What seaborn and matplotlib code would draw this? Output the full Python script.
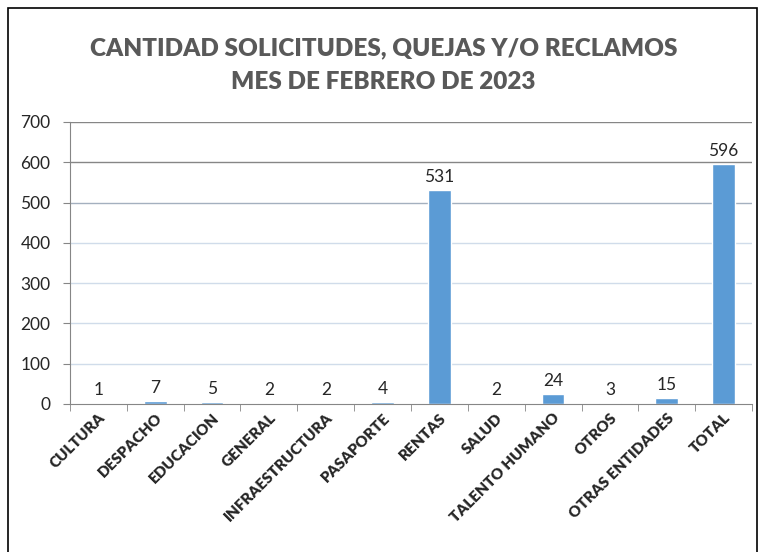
import numpy as np
import matplotlib
matplotlib.use("Agg")
import matplotlib.pyplot as plt
import seaborn as sns
import pandas as pd
from matplotlib.patches import Rectangle

categorias = ["CULTURA", "DESPACHO", "EDUCACION", "GENERAL", "INFRAESTRUCTURA",
              "PASAPORTE", "RENTAS", "SALUD", "TALENTO HUMANO", "OTROS",
              "OTRAS ENTIDADES", "TOTAL"]
cantidades = [1, 7, 5, 2, 2, 4, 531, 2, 24, 3, 15, 596]
y_ticks = [0, 100, 200, 300, 400, 500, 600, 700]
titulo = "CANTIDAD SOLICITUDES, QUEJAS Y/O RECLAMOS\nMES DE FEBRERO DE 2023"

df = pd.DataFrame({"area": categorias, "cantidad": cantidades})

sns.set_style("white")
plt.rcParams["font.family"] = ["Lato", "DejaVu Sans"]

fig = plt.figure(figsize=(7.67, 5.52), dpi=100)
ax = fig.add_axes([70 / 767, 1 - 404 / 552, 682 / 767, 282 / 552])

sns.barplot(data=df, x="area", y="cantidad", color="#5B9BD5", width=0.4,
            saturation=1, ax=ax)

ax.set_ylim(0, 700)
ax.set_xlim(-0.5, len(categorias) - 0.5)
ax.set_yticks(y_ticks)
ax.set_xlabel("")
ax.set_ylabel("")

# lineas de cuadricula
grid_colors = ["#d0dcea"] * 5 + ["#a4b0bf", "#868686", "#868686"]
for yv, c in zip(y_ticks[1:], grid_colors[1:]):
    ax.axhline(yv, color=c, lw=1, zorder=0)

for s in ["top", "right"]:
    ax.spines[s].set_visible(False)
ax.spines["left"].set_color("#868686")
ax.spines["bottom"].set_color("#868686")

ax.tick_params(axis="y", direction="out", length=5, color="#868686",
               labelsize=12.5, pad=9, left=True)
ax.set_xticks(np.arange(-0.5, len(categorias), 1), minor=True)
ax.tick_params(axis="x", which="minor", direction="out", length=5, color="#868686", bottom=True)
ax.tick_params(axis="x", which="major", length=0, pad=5)
ax.set_xticks(range(len(categorias)))
ax.set_xticklabels(categorias, rotation=45, ha="right", rotation_mode="anchor",
                   fontsize=11, fontweight="heavy")

for i, v in enumerate(cantidades):
    ax.text(i, v + 13, str(v), ha="center", va="bottom", fontsize=12.5)

fig.text(0.5, 1 - 65 / 552, titulo, ha="center", va="center", fontsize=17.5,
         fontweight="heavy", color="#595959", linespacing=1.65)

fig.patches.append(Rectangle((8 / 767, -0.05), 749 / 767, 1.05 - 8 / 552,
                             transform=fig.transFigure, fill=False,
                             edgecolor="black", lw=1.2))

fig.savefig("out.png", dpi=100)
